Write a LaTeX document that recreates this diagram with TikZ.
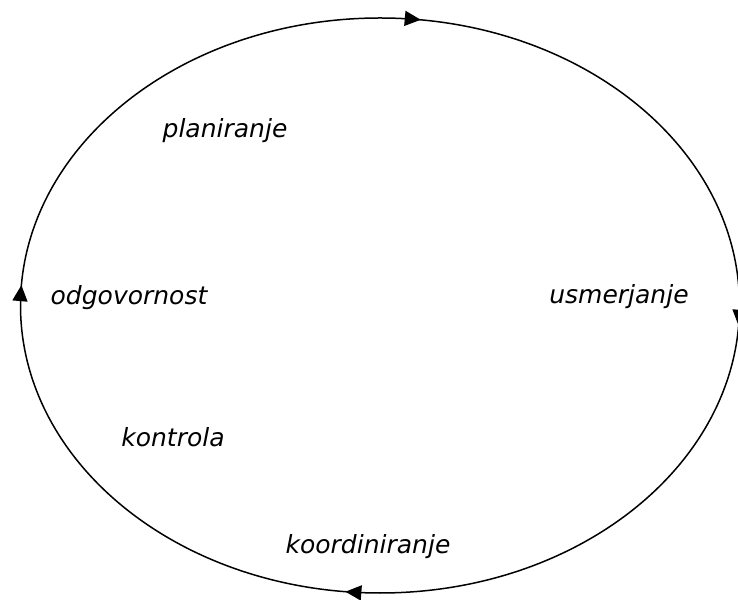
\documentclass[tikz,border=0pt]{standalone}
\usepackage{fontspec}
\setmainfont{DejaVu Sans}
\usetikzlibrary{arrows.meta,decorations.markings}
\tikzset{cycletip/.tip={Triangle[length=16pt,width=15pt]}}
\begin{document}
\begin{tikzpicture}[x=1pt,y=1pt,
  cyclelabel/.style={font=\fontsize{25}{30}\selectfont\itshape, anchor=base, inner sep=0pt}]
  \useasboundingbox (0,0) rectangle (738,599);
  \clip (0,0) rectangle (738,599);
  % management cycle drawn clockwise from the top, with four direction marks
  \draw[line width=1.5pt, postaction={decorate},
    decoration={markings,
      mark=at position 0.020 with {\arrow{cycletip}},
      mark=at position 0.260 with {\arrow{cycletip}},
      mark=at position 0.517 with {\arrow{cycletip}},
      mark=at position 0.760 with {\arrow{cycletip}}}]
    (380,581) arc[start angle=90, end angle=-270, x radius=359.5, y radius=287.5];
  \node[cyclelabel] (plan) at (225,461) {planiranje};
  \node[cyclelabel] (usm)  at (619,295) {usmerjanje};
  \node[cyclelabel] (odg)  at (129,294) {odgovornost};
  \node[cyclelabel] (kon)  at (173,152) {kontrola};
  \node[cyclelabel] (koo)  at (368,45)  {koordiniranje};
\end{tikzpicture}
\end{document}
